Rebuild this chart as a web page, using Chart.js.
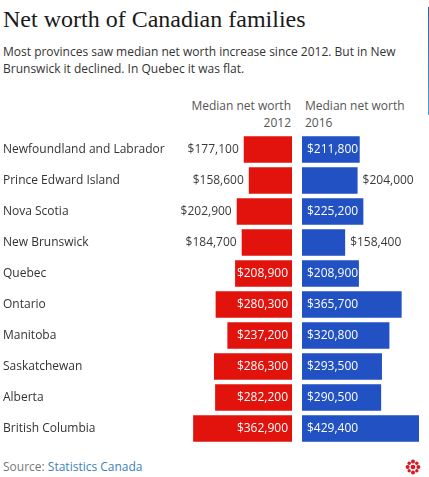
<!DOCTYPE html>
<html>
<head>
<meta charset="utf-8">
<script src="https://cdn.jsdelivr.net/npm/chart.js@4/dist/chart.umd.min.js"></script>
<style>
  html, body { margin: 0; padding: 0; background: #fff; }
  body { width: 429px; height: 477px; position: relative; overflow: hidden; font-family: "Open Sans", sans-serif; }
  .title { position: absolute; left: 3px; top: 7px; font: 24px/24px "Liberation Serif", serif; color: #1a1a1a; white-space: nowrap; }
  .sub { position: absolute; left: 3px; top: 44px; width: 420px; font-size: 12px; line-height: 16.5px; color: #333; }
  .head { position: absolute; top: 98px; font-size: 12px; line-height: 16.5px; color: #555; white-space: nowrap; }
  .head.left { right: 138px; text-align: right; }
  .head.right { left: 305px; text-align: left; }
  .source { position: absolute; left: 3px; top: 459px; font-size: 12px; line-height: 16.5px; color: #777; }
  .source span { color: #3c7fc0; }
  .rule { position: absolute; left: 428px; top: 7px; width: 1px; height: 108px; background: linear-gradient(#3a5c9c, #4aa0d6); }
  #wrap { position: absolute; left: 0; top: 134px; width: 429px; height: 310px; }
  .logo { position: absolute; left: 405px; top: 459px; }
</style>
</head>
<body>
<div class="title">Net worth of Canadian families</div>
<div class="sub">Most provinces saw median net worth increase since 2012. But in New Brunswick it declined. In Quebec it was flat.</div>
<div class="head left">Median net worth<br>2012</div>
<div class="head right">Median net worth<br>2016</div>
<div class="rule"></div>
<div id="wrap"><canvas id="chart"></canvas></div>
<div class="source">Source: <span>Statistics Canada</span></div>
<svg class="logo" width="16" height="16" viewBox="0 0 16 16">
  <g fill="#e0141e">
    <circle cx="8" cy="8" r="2.3"/>
    <circle cx="8" cy="2.6" r="2"/>
    <circle cx="8" cy="13.4" r="2"/>
    <circle cx="2.6" cy="8" r="2"/>
    <circle cx="13.4" cy="8" r="2"/>
    <circle cx="4.2" cy="4.2" r="1.7"/>
    <circle cx="11.8" cy="4.2" r="1.7"/>
    <circle cx="4.2" cy="11.8" r="1.7"/>
    <circle cx="11.8" cy="11.8" r="1.7"/>
  </g>
</svg>

<script>
const provinces = [
  "Newfoundland and Labrador", "Prince Edward Island", "Nova Scotia", "New Brunswick",
  "Quebec", "Ontario", "Manitoba", "Saskatchewan", "Alberta", "British Columbia",
]
const worth2012 = [177100, 158600, 202900, 184700, 208900, 280300, 237200, 286300, 282200, 362900]
const worth2016 = [211800, 204000, 225200, 158400, 208900, 365700, 320800, 293500, 290500, 429400]

// values at or above this get their label inside the bar
const INSIDE_MIN = 205000

const RED = "#e2130d"
const BLUE = "#2151c2"

const fmt = v => "$" + v.toLocaleString("en-US")

// draws the dollar labels next to / inside each bar
const valueLabels = {
  id: "valueLabels",
  afterDatasetsDraw(chart) {
    const ctx = chart.ctx
    ctx.save()
    ctx.font = "12px 'Open Sans', sans-serif"
    ctx.textBaseline = "middle"
    chart.data.datasets.forEach((ds, di) => {
      const left = di === 0
      chart.getDatasetMeta(di).data.forEach((bar, i) => {
        const v = ds.data[i]
        const inside = v >= INSIDE_MIN
        let x
        if (left) {
          ctx.textAlign = "right"
          x = inside ? bar.base - 4 : bar.x - 5
        } else {
          ctx.textAlign = "left"
          x = inside ? bar.base + 5 : bar.x + 5
        }
        ctx.fillStyle = inside ? "#fff" : "#3a3a3a"
        ctx.fillText(fmt(v), x, bar.y + 0.5)
      })
    })
    ctx.restore()
  },
}

new Chart(document.getElementById("chart"), {
  type: "bar",
  data: {
    labels: provinces,
    datasets: [
      {
        label: "2012",
        data: worth2012,
        xAxisID: "x2012",
        backgroundColor: RED,
        grouped: false,
        categoryPercentage: 1,
        barPercentage: 0.86,
      },
      {
        label: "2016",
        data: worth2016,
        xAxisID: "x2016",
        backgroundColor: BLUE,
        grouped: false,
        categoryPercentage: 1,
        barPercentage: 0.86,
      },
    ],
  },
  options: {
    indexAxis: "y",
    responsive: true,
    maintainAspectRatio: false,
    animation: false,
    layout: { padding: { left: 3, right: 10, top: 0, bottom: 0 } },
    plugins: {
      legend: { display: false },
      tooltip: { enabled: false },
    },
    scales: {
      // both axes share the same range; the offset puts the two zero lines 10px apart
      x2012: { type: "linear", display: false, reverse: true, min: -466000, max: 429400 },
      x2016: { type: "linear", display: false, min: -466000, max: 429400 },
      y: {
        grid: { display: false },
        border: { display: false },
        afterFit: (scale) => {
          scale.width = 172
          // rows fill the whole canvas height
          scale.paddingTop = 0
          scale.paddingBottom = 0
        },
        ticks: {
          crossAlign: "far",
          padding: 0,
          color: "#333",
          font: { family: "'Open Sans', sans-serif", size: 12 },
        },
      },
    },
  },
  plugins: [valueLabels],
})
</script>
</body>
</html>
